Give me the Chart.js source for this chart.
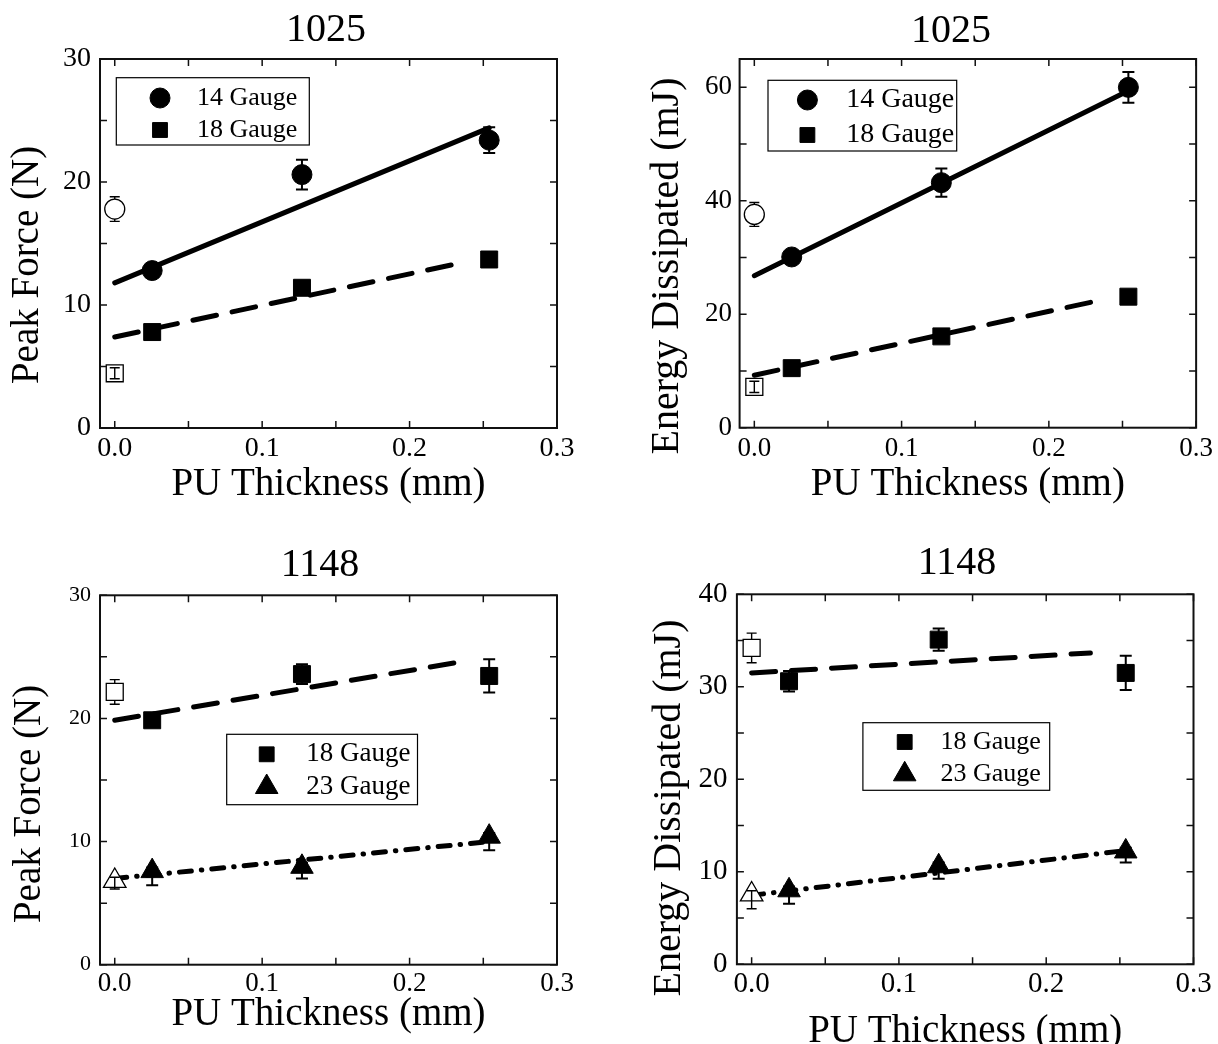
<!DOCTYPE html>
<html>
<head>
<meta charset="utf-8">
<script src="https://cdn.jsdelivr.net/npm/chart.js"></script>
<style>
html,body{margin:0;padding:0;background:#fff;}
#wrap{position:relative;width:1218px;height:1044px;overflow:hidden;background:#fff;}
#wrap canvas{position:absolute;}
</style>
</head>
<body>
<div id="wrap">
<canvas id="c1" width="609" height="522" style="left:0px;top:0px"></canvas>
<canvas id="c2" width="609" height="522" style="left:609px;top:0px"></canvas>
<canvas id="c3" width="609" height="522" style="left:0px;top:522px"></canvas>
<canvas id="c4" width="609" height="522" style="left:609px;top:522px"></canvas>
</div>
<script>
// ---------------- data ----------------
const thickness = [0.0254, 0.127, 0.254];   // PU coated (mm)
const bareThickness = [0];                   // uncoated
const fitLongX = [0, 0.254];
const fitShortX = [0, 0.23];

const xTicks = [0, 0.1, 0.2, 0.3];
const xTickLabels = ['0.0', '0.1', '0.2', '0.3'];
const forceTicks = [0, 10, 20, 30];
const energy1025Ticks = [0, 20, 40, 60];
const energy1148Ticks = [0, 10, 20, 30, 40];

const panelTitles = ['1025', '1025', '1148', '1148'];
const xAxisTitle = 'PU Thickness (mm)';
const yAxisTitles = ['Peak Force (N)', 'Energy Dissipated (mJ)', 'Peak Force (N)', 'Energy Dissipated (mJ)'];
const labels1025 = ['14 Gauge', '18 Gauge'];
const labels1148 = ['18 Gauge', '23 Gauge'];

// 1025 - peak force
const force1025_14 = [12.8, 20.6, 23.4];
const force1025_14_err = [0.3, 1.2, 1.05];
const force1025_14_bare = [17.8];
const force1025_14_bare_err = [1.0];
const force1025_18 = [7.8, 11.4, 13.7];
const force1025_18_err = [0.3, 0.3, 0.3];
const force1025_18_bare = [4.45];
const force1025_18_bare_err = [0.45];
const force1025_14_fit = [11.8, 24.4];
const force1025_18_fit = [7.4, 13.3];

// 1025 - energy dissipated
const energy1025_14 = [30.1, 43.2, 60.0];
const energy1025_14_err = [0.8, 2.5, 2.7];
const energy1025_14_bare = [37.6];
const energy1025_14_bare_err = [2.1];
const energy1025_18 = [10.5, 16.1, 23.1];
const energy1025_18_err = [0.5, 0.5, 0.5];
const energy1025_18_bare = [7.2];
const energy1025_18_bare_err = [1.0];
const energy1025_14_fit = [26.8, 59.4];
const energy1025_18_fit = [9.25, 22.2];

// 1148 - peak force
const force1148_18 = [19.85, 23.6, 23.45];
const force1148_18_err = [0.4, 0.8, 1.35];
const force1148_18_bare = [22.15];
const force1148_18_bare_err = [1.0];
const force1148_23 = [7.6, 7.95, 10.4];
const force1148_23_err = [1.15, 0.95, 1.1];      // lower bars (visible)
const force1148_23_errUp = [0.3, 0.3, 0.3];      // upper bars (inside symbol)
const force1148_23_bare = [6.8];
const force1148_23_bare_err = [0.65];
const force1148_23_bare_errUp = [0.3];
const force1148_18_fit = [19.85, 24.5];
const force1148_23_fit = [7.0, 10.0];

// 1148 - energy dissipated
const energy1148_18 = [30.6, 35.1, 31.5];
const energy1148_18_err = [1.1, 1.2, 1.85];
const energy1148_18_bare = [34.2];
const energy1148_18_bare_err = [1.6];
const energy1148_23 = [8.0, 10.6, 12.2];
const energy1148_23_err = [1.45, 1.35, 1.2];
const energy1148_23_errUp = [0.4, 0.4, 0.4];
const energy1148_23_bare = [7.55];
const energy1148_23_bare_err = [1.55];
const energy1148_23_bare_errUp = [0.4];
const energy1148_18_fit = [31.5, 33.66];
const energy1148_23_fit = [7.46, 12.3];

// ---------------- styling / helpers ----------------
const FONT = '"Liberation Serif", "Times New Roman", serif';
const DASH = [24, 16];
const DASHDOT = [12, 10, 0.5, 10];
const MARK = {circle: 10, rect: 12, triangle: 13};

function pts(xs, ys) { return xs.map((x, i) => ({x: x, y: ys[i]})); }

function series(label, style, ys, errs, filled, extra) {
  return Object.assign({
    label: label,
    data: pts(filled ? thickness : bareThickness, ys),
    showLine: false,
    pointStyle: style,
    pointRadius: MARK[style],
    pointHoverRadius: MARK[style],
    backgroundColor: filled ? '#000' : '#fff',
    borderColor: '#000',
    borderWidth: filled ? 1 : 1.3,
    errors: errs,
    errorWidth: filled ? 2 : 1.4,
    capHalf: filled ? 6 : 5,
    inLegend: filled
  }, extra || {});
}

function fit(xs, ys, dash) {
  return {
    data: pts(xs, ys),
    showLine: true,
    pointRadius: 0,
    pointHoverRadius: 0,
    borderColor: '#000',
    backgroundColor: '#000',
    borderWidth: 5,
    borderDash: dash,
    borderCapStyle: 'round',
    fill: false
  };
}

function drawErrors(chart, behind) {
  const ctx = chart.ctx, y = chart.scales.y;
  chart.data.datasets.forEach((ds, i) => {
    if (!ds.errors || (!!ds.errorBehind) !== behind) return;
    const meta = chart.getDatasetMeta(i);
    ctx.save();
    ctx.strokeStyle = '#000';
    ctx.lineWidth = ds.errorWidth || 2;
    meta.data.forEach((pt, j) => {
      const v = ds.data[j].y, e = ds.errors[j];
      const eu = ds.errorsUp ? ds.errorsUp[j] : e;
      const y0 = y.getPixelForValue(v - e), y1 = y.getPixelForValue(v + eu);
      const c = ds.capHalf || 6;
      ctx.beginPath();
      ctx.moveTo(pt.x, y0); ctx.lineTo(pt.x, y1);
      ctx.moveTo(pt.x - c, y0); ctx.lineTo(pt.x + c, y0);
      ctx.moveTo(pt.x - c, y1); ctx.lineTo(pt.x + c, y1);
      ctx.stroke();
    });
    ctx.restore();
  });
}

function mids(arr) {
  const out = [];
  for (let i = 0; i < arr.length - 1; i++) out.push((arr[i] + arr[i + 1]) / 2);
  return out;
}

function drawMarker(ctx, style, r, x, y) {
  if (Chart.helpers && Chart.helpers.drawPoint) {
    Chart.helpers.drawPoint(ctx, {pointStyle: style, radius: r, borderWidth: 1, rotation: 0}, x, y);
    return;
  }
  ctx.beginPath();
  if (style === 'circle') ctx.arc(x, y, r, 0, Math.PI * 2);
  else if (style === 'rect') { const s = r * Math.SQRT1_2; ctx.rect(x - s, y - s, 2 * s, 2 * s); }
  else { ctx.moveTo(x, y - r); ctx.lineTo(x + r * 0.866, y + r / 2); ctx.lineTo(x - r * 0.866, y + r / 2); ctx.closePath(); }
  ctx.fill(); ctx.stroke();
}

function makePanel(id, cfg) {
  const A = cfg.area;
  const plugins = [
    {
      id: 'errorBars',
      beforeDatasetsDraw(chart) { drawErrors(chart, true); },
      afterDatasetsDraw(chart) { drawErrors(chart, false); }
    },
    {
      id: 'frameTicks',
      afterDatasetsDraw(chart) {
        const {ctx, chartArea: a, scales: {x, y}} = chart;
        ctx.save();
        ctx.strokeStyle = '#111';
        ctx.lineWidth = 2;
        ctx.strokeRect(a.left, a.top, a.right - a.left, a.bottom - a.top);
        ctx.lineWidth = 1.5;
        const L = 7;
        const xv = x.ticks.map(t => t.value);
        const yv = y.ticks.map(t => t.value);
        const allX = xv.concat(mids(xv));
        const allY = yv.concat(mids(yv));
        ctx.beginPath();
        allX.forEach(v => {
          const p = x.getPixelForValue(v);
          ctx.moveTo(p, a.bottom); ctx.lineTo(p, a.bottom - L);
          ctx.moveTo(p, a.top); ctx.lineTo(p, a.top + L);
        });
        allY.forEach(v => {
          const p = y.getPixelForValue(v);
          ctx.moveTo(a.left, p); ctx.lineTo(a.left + L, p);
          ctx.moveTo(a.right, p); ctx.lineTo(a.right - L, p);
        });
        ctx.stroke();
        ctx.restore();
      }
    },
    {
      id: 'legendBox',
      afterDraw(chart) {
        const lg = cfg.legend, ctx = chart.ctx, a = chart.chartArea;
        const x0 = a.left + lg.dx, y0 = a.top + lg.dy;
        ctx.save();
        ctx.fillStyle = '#fff';
        ctx.fillRect(x0, y0, lg.w, lg.h);
        ctx.strokeStyle = '#000';
        ctx.lineWidth = 1.2;
        ctx.strokeRect(x0, y0, lg.w, lg.h);
        const items = chart.data.datasets.filter(d => d.inLegend);
        items.forEach((ds, i) => {
          const my = y0 + lg.rows[i];
          ctx.fillStyle = '#000'; ctx.strokeStyle = '#000'; ctx.lineWidth = 1;
          drawMarker(ctx, ds.pointStyle, lg.radius[ds.pointStyle], x0 + lg.markerDx, my);
          ctx.fillStyle = '#000';
          ctx.font = lg.size + 'px ' + FONT;
          ctx.textAlign = 'left';
          ctx.textBaseline = 'middle';
          ctx.fillText(ds.label, x0 + lg.textDx, my);
        });
        ctx.restore();
      }
    },
    {
      id: 'panelText',
      afterDraw(chart) {
        const t = cfg.text, ctx = chart.ctx;
        ctx.save();
        ctx.fillStyle = '#000';
        ctx.textAlign = 'center';
        ctx.textBaseline = 'middle';
        ctx.font = t.titleSize + 'px ' + FONT;
        ctx.fillText(t.title, t.titleX, t.titleY);
        ctx.translate(t.yTitleX, t.yTitleY);
        ctx.rotate(-Math.PI / 2);
        ctx.font = t.yTitleSize + 'px ' + FONT;
        ctx.fillText(t.yTitle, 0, 0);
        ctx.restore();
      }
    }
  ];

  new Chart(document.getElementById(id), {
    type: 'scatter',
    data: {datasets: cfg.datasets},
    options: {
      responsive: false,
      animation: false,
      devicePixelRatio: 1,
      events: [],
      layout: {padding: {left: 0, top: A.top, right: 609 - A.right, bottom: 0}},
      plugins: {legend: {display: false}, tooltip: {enabled: false}, title: {display: false}},
      scales: {
        x: {
          type: 'linear', position: 'bottom', min: -0.01, max: 0.3,
          afterBuildTicks: s => { s.ticks = xTicks.map(v => ({value: v})); },
          afterFit: s => { s.height = 522 - A.bottom; },
          grid: {display: false, drawTicks: false},
          border: {display: false},
          ticks: {
            autoSkip: false, maxRotation: 0, minRotation: 0,
            padding: cfg.xTickPad, color: '#000',
            font: {family: FONT, size: cfg.xTickSize},
            callback: (v, i) => xTickLabels[i]
          },
          title: {
            display: true, text: xAxisTitle, color: '#000',
            font: {family: FONT, size: 39, lineHeight: 1.2},
            padding: {top: 0, bottom: cfg.xTitlePad}
          }
        },
        y: {
          type: 'linear', position: 'left', min: 0, max: cfg.yMax,
          afterBuildTicks: s => { s.ticks = cfg.yTicks.map(v => ({value: v})); },
          afterFit: s => { s.width = A.left; },
          grid: {display: false, drawTicks: false},
          border: {display: false},
          ticks: {
            autoSkip: false, padding: cfg.yTickPad, color: '#000',
            font: {family: FONT, size: cfg.yTickSize},
            callback: (v, i) => String(cfg.yTicks[i])
          }
        }
      }
    },
    plugins: plugins
  });
}

const legendRadius = {circle: 10, rect: 10.5, triangle: 13};

// Panel 1: 1025 peak force
makePanel('c1', {
  area: {left: 100, top: 59, right: 557, bottom: 428},
  yMax: 30, yTicks: forceTicks,
  xTickSize: 28, yTickSize: 28, xTickPad: 4, yTickPad: 9, xTitlePad: 13.6,
  text: {title: panelTitles[0], titleX: 326, titleY: 30, titleSize: 40,
         yTitle: yAxisTitles[0], yTitleX: 28, yTitleY: 265, yTitleSize: 39},
  legend: {dx: 16.3, dy: 18.7, w: 193, h: 67.3, markerDx: 43.7, textDx: 80.7, rows: [20.3, 52.3], size: 26, radius: legendRadius},
  datasets: [
    series(labels1025[0], 'circle', force1025_14, force1025_14_err, true),
    series(labels1025[1], 'rect', force1025_18, force1025_18_err, true),
    series(labels1025[0], 'circle', force1025_14_bare, force1025_14_bare_err, false, {errorBehind: true}),
    series(labels1025[1], 'rect', force1025_18_bare, force1025_18_bare_err, false),
    fit(fitLongX, force1025_14_fit, []),
    fit(fitShortX, force1025_18_fit, DASH)
  ]
});

// Panel 2: 1025 energy dissipated
makePanel('c2', {
  area: {left: 130.6, top: 59, right: 588, bottom: 427.7},
  yMax: 65, yTicks: energy1025Ticks,
  xTickSize: 27, yTickSize: 27, xTickPad: 5, yTickPad: 7.5, xTitlePad: 13.6,
  text: {title: panelTitles[1], titleX: 342, titleY: 31.7, titleSize: 40,
         yTitle: yAxisTitles[1], yTitleX: 58, yTitleY: 266, yTitleSize: 40},
  legend: {dx: 28.4, dy: 21.3, w: 188.7, h: 70.7, markerDx: 39.4, textDx: 78.2, rows: [19.7, 54.7], size: 28, radius: legendRadius},
  datasets: [
    series(labels1025[0], 'circle', energy1025_14, energy1025_14_err, true),
    series(labels1025[1], 'rect', energy1025_18, energy1025_18_err, true),
    series(labels1025[0], 'circle', energy1025_14_bare, energy1025_14_bare_err, false, {errorBehind: true}),
    series(labels1025[1], 'rect', energy1025_18_bare, energy1025_18_bare_err, false),
    fit(fitLongX, energy1025_14_fit, []),
    fit(fitShortX, energy1025_18_fit, DASH)
  ]
});

// Panel 3: 1148 peak force
makePanel('c3', {
  area: {left: 100, top: 73.3, right: 557, bottom: 442.7},
  yMax: 30, yTicks: forceTicks,
  xTickSize: 27, yTickSize: 22, xTickPad: 3, yTickPad: 9, xTitlePad: 5.9,
  text: {title: panelTitles[2], titleX: 320, titleY: 43.3, titleSize: 40,
         yTitle: yAxisTitles[2], yTitleX: 30, yTitleY: 282, yTitleSize: 39},
  legend: {dx: 126.7, dy: 139, w: 190.8, h: 70.4, markerDx: 40, textDx: 79.5, rows: [20, 52.7], size: 27, radius: legendRadius},
  datasets: [
    series(labels1148[0], 'rect', force1148_18, force1148_18_err, true),
    series(labels1148[1], 'triangle', force1148_23, force1148_23_err, true, {errorsUp: force1148_23_errUp}),
    series(labels1148[0], 'rect', force1148_18_bare, force1148_18_bare_err, false, {errorBehind: true}),
    series(labels1148[1], 'triangle', force1148_23_bare, force1148_23_bare_err, false, {errorsUp: force1148_23_bare_errUp}),
    fit(fitShortX, force1148_18_fit, DASH),
    fit(fitLongX, force1148_23_fit, DASHDOT)
  ]
});

// Panel 4: 1148 energy dissipated
makePanel('c4', {
  area: {left: 127.9, top: 72.3, right: 584.5, bottom: 442.3},
  yMax: 40, yTicks: energy1148Ticks,
  xTickSize: 29, yTickSize: 29, xTickPad: 3, yTickPad: 9.5, xTitlePad: -11.4,
  text: {title: panelTitles[3], titleX: 348, titleY: 41.7, titleSize: 40,
         yTitle: yAxisTitles[3], yTitleX: 60, yTitleY: 286, yTitleSize: 40},
  legend: {dx: 126, dy: 128.4, w: 186.8, h: 67.6, markerDx: 41.8, textDx: 77.5, rows: [19.3, 51.6], size: 26, radius: legendRadius},
  datasets: [
    series(labels1148[0], 'rect', energy1148_18, energy1148_18_err, true),
    series(labels1148[1], 'triangle', energy1148_23, energy1148_23_err, true, {errorsUp: energy1148_23_errUp}),
    series(labels1148[0], 'rect', energy1148_18_bare, energy1148_18_bare_err, false, {errorBehind: true}),
    series(labels1148[1], 'triangle', energy1148_23_bare, energy1148_23_bare_err, false, {errorsUp: energy1148_23_bare_errUp}),
    fit(fitShortX, energy1148_18_fit, DASH),
    fit(fitLongX, energy1148_23_fit, DASHDOT)
  ]
});
</script>
</body>
</html>
